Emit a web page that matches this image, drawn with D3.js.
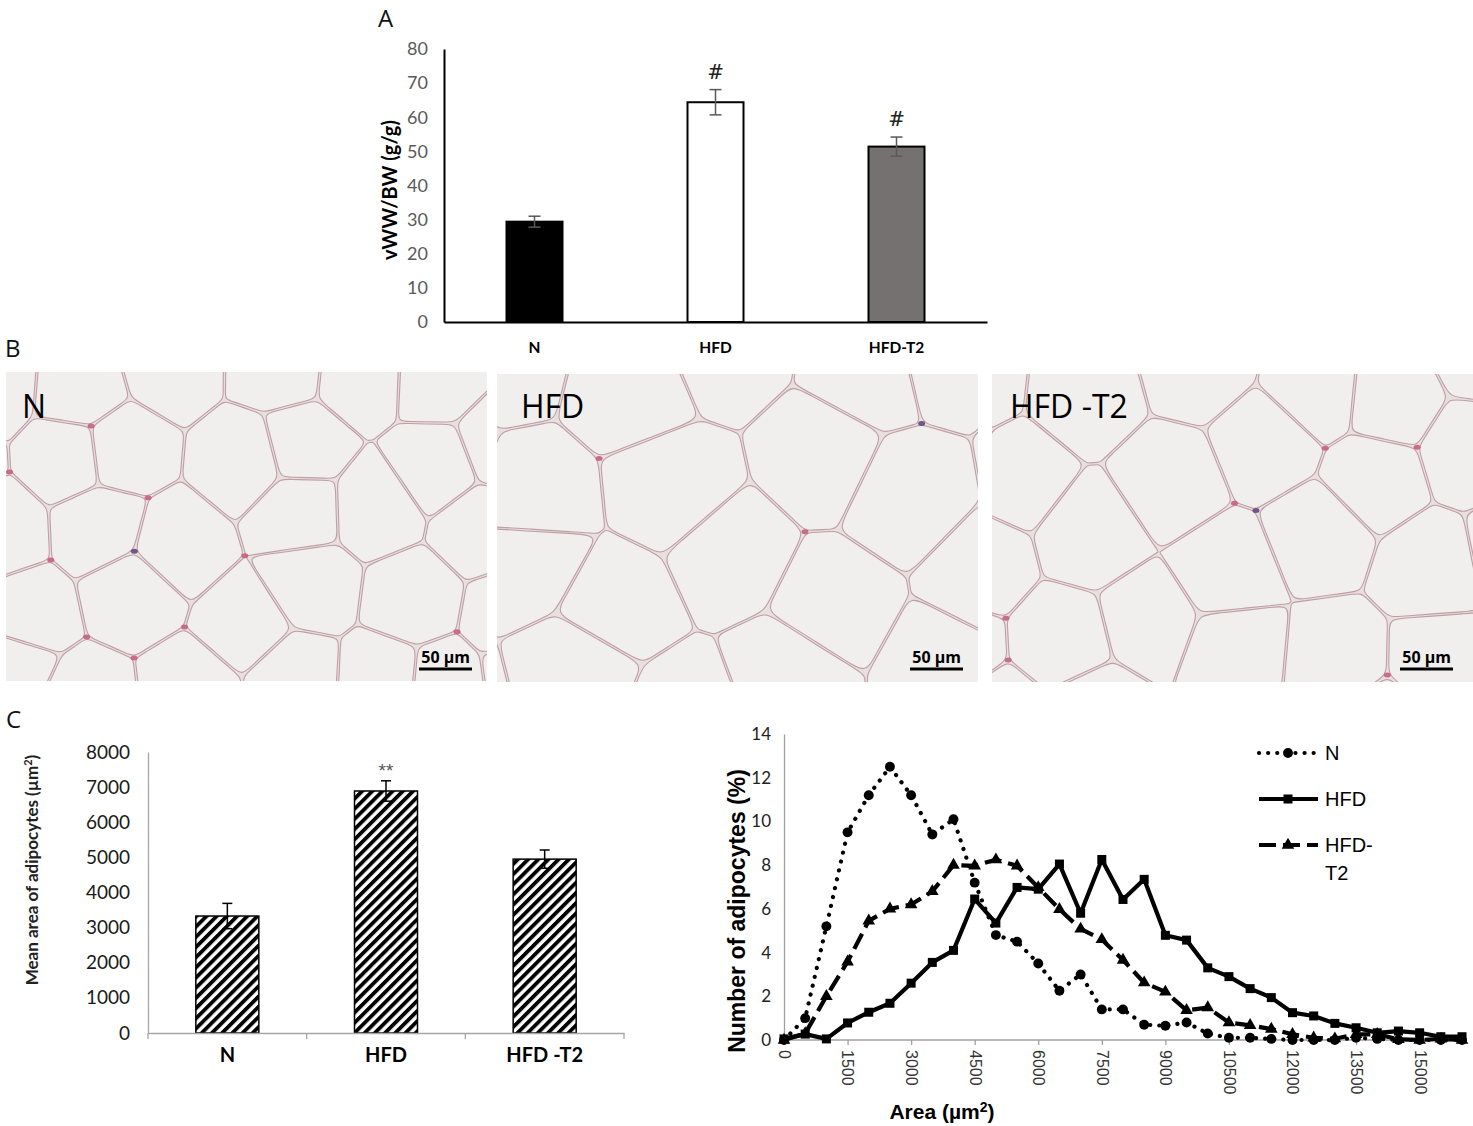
<!DOCTYPE html>
<html>
<head>
<meta charset="utf-8">
<script src="https://cdn.jsdelivr.net/npm/d3@7"></script>
<style>
  body { margin: 0; background: #fff; }
  svg { display: block; }
</style>
</head>
<body>
<svg id="fig" width="1473" height="1126"></svg>
<script>
"use strict";

/*
 * Panel A: vWW/BW ratio
 */
var groupsA = ["N", "HFD", "HFD-T2"];
var ratioA = [29.4, 64.4, 51.4];
var ratioErrA = [1.6, 3.7, 2.8];
var ratioMarkA = ["", "#", "#"];
var ticksA = [0, 10, 20, 30, 40, 50, 60, 70, 80];

/*
 * Panel B: histology photos (drawn as a cell texture)
 */
var photoLabels = ["N", "HFD", "HFD -T2"];
var cellSize = [90, 120, 104];

/*
 * Panel C: mean adipocyte area
 */
var groupsC = ["N", "HFD", "HFD -T2"];
var areaC = [3330, 6890, 4950];
var areaErrC = [360, 290, 260];
var areaMarkC = ["", "**", ""];
var ticksC = [0, 1000, 2000, 3000, 4000, 5000, 6000, 7000, 8000];

/*
 * Panel C: size distribution
 */
var areaBins = [0, 500, 1000, 1500, 2000, 2500, 3000, 3500, 4000, 4500, 5000, 5500,
  6000, 6500, 7000, 7500, 8000, 8500, 9000, 9500, 10000, 10500, 11000, 11500,
  12000, 12500, 13000, 13500, 14000, 14500, 15000, 15500, 16000];
var distN = [0, 1.0, 5.2, 9.5, 11.2, 12.5, 11.2, 9.4, 10.1, 7.2, 4.8, 4.5,
  3.5, 2.25, 3.0, 1.4, 1.4, 0.7, 0.65, 0.8, 0.3, 0.1, 0.1, 0.05,
  0, 0, 0, 0.1, 0.05, 0, 0, 0, 0];
var distHFD = [0.05, 0.27, 0.05, 0.78, 1.27, 1.68, 2.6, 3.55, 4.1, 6.45, 5.35, 6.98,
  6.9, 8.05, 5.8, 8.26, 6.43, 7.35, 4.79, 4.57, 3.3, 2.9, 2.35, 1.94,
  1.25, 1.1, 0.76, 0.56, 0.33, 0.41, 0.33, 0.15, 0.15];
var distT2 = [0, 0.3, 2.0, 3.58, 5.45, 6.0, 6.2, 6.8, 8.0, 7.97, 8.25, 7.97,
  6.98, 5.98, 5.08, 4.6, 3.66, 2.62, 2.2, 1.36, 1.48, 0.8, 0.67, 0.5,
  0.26, 0.1, 0.06, 0.26, 0.26, 0.03, 0, 0.05, 0];
var distNames = ["N", "HFD", "HFD-"];
var areaTicks = [0, 1500, 3000, 4500, 6000, 7500, 9000, 10500, 12000, 13500, 15000];
var pctTicks = [0, 2, 4, 6, 8, 10, 12, 14];

var svg = d3.select("#fig");
var serif = "'Open Sans', sans-serif";
var calib = "Lato, 'Open Sans', sans-serif";
var arial = "'Liberation Sans', Arial, sans-serif";
var fmt = d3.format("d");

svg.append("rect").attr("width", 1473).attr("height", 1126).attr("fill", "#fff");

// panel letters
[["A", 378, 27], ["B", 5, 357], ["C", 6, 728]].forEach(function(d) {
	svg.append("text").attr("x", d[1]).attr("y", d[2])
		.attr("font-family", serif).attr("font-size", 24).attr("fill", "#111")
		.text(d[0]);
});

/*
 * Panel A
 */
function drawA() {
	var x = d3.scaleBand().domain(groupsA).range([444, 987]);
	var y = d3.scaleLinear().domain([0, 80]).range([322, 49]);
	var bw = 56;
	var fills = ["#000", "#fff", "#767171"];

	var g = svg.append("g");

	g.selectAll(".barA")
		.data(groupsA)
		.enter().append("rect")
		.attr("x", function(d) { return x(d) + x.bandwidth() / 2 - bw / 2; })
		.attr("y", function(d, i) { return y(ratioA[i]); })
		.attr("width", bw)
		.attr("height", function(d, i) { return y(0) - y(ratioA[i]); })
		.attr("fill", function(d, i) { return fills[i]; })
		.attr("stroke", "#000").attr("stroke-width", 2);

	var err = g.selectAll(".errA").data(groupsA).enter().append("g")
		.attr("transform", function(d) { return "translate(" + (x(d) + x.bandwidth() / 2) + ",0)"; });
	err.append("line")
		.attr("y1", function(d, i) { return y(ratioA[i] - ratioErrA[i]); })
		.attr("y2", function(d, i) { return y(ratioA[i] + ratioErrA[i]); })
		.attr("stroke", "#595959").attr("stroke-width", 1.5);
	[-1, 1].forEach(function(s) {
		err.append("line").attr("x1", -6).attr("x2", 6)
			.attr("y1", function(d, i) { return y(ratioA[i] + s * ratioErrA[i]); })
			.attr("y2", function(d, i) { return y(ratioA[i] + s * ratioErrA[i]); })
			.attr("stroke", "#595959").attr("stroke-width", 1.5);
	});
	err.append("text")
		.attr("y", function(d, i) { return y(ratioA[i] + ratioErrA[i]) - 11; })
		.attr("text-anchor", "middle")
		.attr("font-family", "'DejaVu Serif', serif").attr("font-size", 20).attr("fill", "#222")
		.text(function(d, i) { return ratioMarkA[i]; });

	var ya = g.append("g").attr("transform", "translate(444,0)")
		.call(d3.axisLeft(y).tickValues(ticksA).tickSize(0).tickSizeOuter(0).tickPadding(16));
	ya.select(".domain").attr("stroke", "#000").attr("stroke-width", 2);
	ya.selectAll("text").attr("font-family", calib).attr("font-size", 18).attr("fill", "#595959");

	var xa = g.append("g").attr("transform", "translate(0,322)")
		.call(d3.axisBottom(x).tickSize(0).tickSizeOuter(0).tickPadding(20));
	xa.select(".domain").attr("stroke", "#000").attr("stroke-width", 2);
	xa.selectAll("text").attr("font-family", calib).attr("font-weight", "bold")
		.attr("font-size", 15.5).attr("fill", "#000");

	g.append("text")
		.attr("transform", "translate(397,190) rotate(-90)")
		.attr("text-anchor", "middle")
		.attr("font-family", calib).attr("font-weight", "bold").attr("font-size", 20)
		.text("vWW/BW (g/g)");
}

/*
 * Panel B: adipocyte sections as a Voronoi texture
 */
function hash(n) {
	var s = Math.sin(n * 12.9898 + 78.233) * 43758.5453;
	return s - Math.floor(s);
}

function drawB() {
	var boxes = [[6, 372, 481, 309], [497, 374, 481, 308], [992, 374, 481, 308]];
	var defs = svg.append("defs");
	var line = d3.line().curve(d3.curveBasisClosed);

	boxes.forEach(function(b, p) {
		var s = cellSize[p];
		var id = "clipB" + p;
		defs.append("clipPath").attr("id", id)
			.append("rect").attr("x", b[0]).attr("y", b[1]).attr("width", b[2]).attr("height", b[3]);
		var g = svg.append("g").attr("clip-path", "url(#" + id + ")");
		g.append("rect").attr("x", b[0]).attr("y", b[1]).attr("width", b[2]).attr("height", b[3])
			.attr("fill", "#e8dfdf");

		var seeds = [];
		var k = p * 1000 + 7;
		for (var r = -1; r * s * 0.86 < b[3] + s; r++) {
			for (var c = -1; c * s < b[2] + s; c++) {
				seeds.push([
					b[0] + c * s + (r % 2 ? s / 2 : 0) + (hash(k) - 0.5) * s * 0.55,
					b[1] + r * s * 0.86 + (hash(k + 1) - 0.5) * s * 0.5
				]);
				k += 2;
			}
		}
		var vor = d3.Delaunay.from(seeds)
			.voronoi([b[0] - s, b[1] - s, b[0] + b[2] + s, b[1] + b[3] + s]);

		var cells = [];
		for (var i = 0; i < seeds.length; i++) {
			var poly = vor.cellPolygon(i);
			if (!poly) continue;
			poly = poly.slice(0, -1);
			var ct = d3.polygonCentroid(poly);
			var pts = [];
			poly.forEach(function(q, j) {
				var n = poly[(j + 1) % poly.length];
				[0, 0.2, 0.5, 0.8].forEach(function(t) {
					var px = q[0] + (n[0] - q[0]) * t, py = q[1] + (n[1] - q[1]) * t;
					var dx = px - ct[0], dy = py - ct[1];
					var dd = Math.sqrt(dx * dx + dy * dy) || 1;
					var f = 1 - 1.2 / dd;
					pts.push([ct[0] + dx * f, ct[1] + dy * f]);
				});
			});
			cells.push(pts);
		}

		g.selectAll(".cell").data(cells).enter().append("path")
			.attr("d", line)
			.attr("fill", "#f0efed")
			.attr("stroke", "#bf9ea4")
			.attr("stroke-width", 1.1);

		// stained nuclei at a few junctions
		var cc = vor.circumcenters;
		for (var j = 0; j < cc.length / 2; j++) {
			if (hash(j * 3 + p * 97) < 0.16) {
				g.append("ellipse")
					.attr("cx", cc[2 * j]).attr("cy", cc[2 * j + 1])
					.attr("rx", 3.5).attr("ry", 2.5)
					.attr("fill", hash(j + 5) < 0.2 ? "#5a3f78" : "#c4587a")
					.attr("opacity", 0.85);
			}
		}

		svg.append("text").attr("x", b[0] + (p === 0 ? 16 : 24) - (p === 2 ? 6 : 0)).attr("y", 418)
			.attr("font-family", serif).attr("font-size", 32).attr("fill", "#000")
			.text(photoLabels[p]);

		var right = b[0] + b[2] - (p === 2 ? 20 : 15);
		svg.append("text").attr("x", right - 2).attr("y", 663)
			.attr("text-anchor", "end")
			.attr("font-family", serif).attr("font-weight", "bold").attr("font-size", 16)
			.text("50 µm");
		svg.append("line").attr("x1", right - 53).attr("x2", right)
			.attr("y1", 669).attr("y2", 669)
			.attr("stroke", "#000").attr("stroke-width", 3);
	});
}

/*
 * Panel C left: mean area, hatched bars
 */
function drawCBars() {
	var x = d3.scaleBand().domain(groupsC).range([148, 624]);
	var y = d3.scaleLinear().domain([0, 8000]).range([1033, 752]);
	var bw = 63;

	var pat = svg.append("defs").append("pattern")
		.attr("id", "hatch").attr("patternUnits", "userSpaceOnUse")
		.attr("width", 7.2).attr("height", 7.2)
		.attr("patternTransform", "rotate(45)");
	pat.append("rect").attr("width", 7.2).attr("height", 7.2).attr("fill", "#fff");
	pat.append("rect").attr("width", 3.8).attr("height", 7.2).attr("fill", "#000");

	var g = svg.append("g");

	g.selectAll(".barC").data(groupsC).enter().append("rect")
		.attr("x", function(d) { return x(d) + x.bandwidth() / 2 - bw / 2; })
		.attr("y", function(d, i) { return y(areaC[i]); })
		.attr("width", bw)
		.attr("height", function(d, i) { return y(0) - y(areaC[i]); })
		.attr("fill", "url(#hatch)")
		.attr("stroke", "#000").attr("stroke-width", 1.5);

	var err = g.selectAll(".errC").data(groupsC).enter().append("g")
		.attr("transform", function(d) { return "translate(" + (x(d) + x.bandwidth() / 2) + ",0)"; });
	err.append("line")
		.attr("y1", function(d, i) { return y(areaC[i] - areaErrC[i]); })
		.attr("y2", function(d, i) { return y(areaC[i] + areaErrC[i]); })
		.attr("stroke", "#000").attr("stroke-width", 1.5);
	[-1, 1].forEach(function(s) {
		err.append("line").attr("x1", -5).attr("x2", 5)
			.attr("y1", function(d, i) { return y(areaC[i] + s * areaErrC[i]); })
			.attr("y2", function(d, i) { return y(areaC[i] + s * areaErrC[i]); })
			.attr("stroke", "#000").attr("stroke-width", 1.5);
	});
	err.append("text")
		.attr("y", function(d, i) { return y(areaC[i] + areaErrC[i]) - 4; })
		.attr("text-anchor", "middle")
		.attr("font-family", arial).attr("font-size", 19).attr("fill", "#555")
		.text(function(d, i) { return areaMarkC[i]; });

	var ya = g.append("g").attr("transform", "translate(148,0)")
		.call(d3.axisLeft(y).tickValues(ticksC).tickFormat(fmt).tickSize(0).tickSizeOuter(0).tickPadding(18));
	ya.select(".domain").attr("stroke", "#a6a6a6").attr("stroke-width", 1.3);
	ya.selectAll("text").attr("font-family", calib).attr("font-size", 19).attr("fill", "#1a1a1a");

	var xa = g.append("g").attr("transform", "translate(0,1033)")
		.call(d3.axisBottom(x).tickSize(0).tickSizeOuter(0).tickPadding(15));
	xa.select(".domain").attr("stroke", "#a6a6a6").attr("stroke-width", 1.3);
	xa.selectAll("text").attr("font-family", calib).attr("font-weight", "bold")
		.attr("font-size", 20).attr("fill", "#000");
	// category boundary ticks
	xa.selectAll(".sep").data(groupsC).enter().append("line")
		.attr("x1", function(d) { return x(d) + x.bandwidth(); })
		.attr("x2", function(d) { return x(d) + x.bandwidth(); })
		.attr("y1", 0).attr("y2", 6)
		.attr("stroke", "#a6a6a6").attr("stroke-width", 1.3);
	xa.append("line").attr("x1", 148).attr("x2", 148).attr("y1", 0).attr("y2", 6)
		.attr("stroke", "#a6a6a6").attr("stroke-width", 1.3);

	var lab = g.append("text")
		.attr("transform", "translate(38,870) rotate(-90)")
		.attr("text-anchor", "middle")
		.attr("font-family", calib).attr("font-weight", "bold").attr("font-size", 17)
		.attr("fill", "#222");
	lab.append("tspan").text("Mean area of adipocytes (µm");
	lab.append("tspan").attr("dy", -6).attr("font-size", 11).text("2");
	lab.append("tspan").attr("dy", 6).text(")");
}

/*
 * Panel C right: size distribution lines
 */
function drawCLines() {
	var x = d3.scaleLinear().domain([0, 16000]).range([784, 1462]);
	var y = d3.scaleLinear().domain([0, 14]).range([1040, 734]);
	var series = [distN, distHFD, distT2];
	var dashes = ["0.1 9", null, "17 7"];
	var caps = ["round", "butt", "butt"];

	var g = svg.append("g");

	var ya = g.append("g").attr("transform", "translate(784,0)")
		.call(d3.axisLeft(y).tickValues(pctTicks).tickSize(0).tickSizeOuter(0).tickPadding(13));
	ya.select(".domain").attr("stroke", "#a0a0a0").attr("stroke-width", 1.3);
	ya.selectAll("text").attr("font-family", calib).attr("font-size", 17).attr("fill", "#222");

	var xa = g.append("g").attr("transform", "translate(0,1040)")
		.call(d3.axisBottom(x).tickValues(areaTicks).tickFormat(fmt).tickSize(5).tickSizeOuter(0));
	xa.select(".domain").attr("stroke", "#a0a0a0").attr("stroke-width", 1.3)
		.attr("d", "M784,0H1466");
	xa.selectAll(".tick line").attr("stroke", "#a0a0a0").attr("stroke-width", 1.3);
	xa.selectAll("text")
		.attr("transform", "rotate(90)")
		.attr("x", 10).attr("y", 0).attr("dy", "0.35em")
		.attr("text-anchor", "start")
		.attr("font-family", arial).attr("font-size", 16).attr("fill", "#333");

	var line = d3.line()
		.x(function(d, i) { return x(areaBins[i]); })
		.y(function(d) { return y(d); });

	series.forEach(function(vals, s) {
		g.append("path").datum(vals)
			.attr("d", line)
			.attr("fill", "none").attr("stroke", "#000").attr("stroke-width", 4.2)
			.attr("stroke-linecap", caps[s]).attr("stroke-linejoin", "round")
			.attr("stroke-dasharray", dashes[s]);
	});

	function marker(sel, s, size) {
		if (s === 0) {
			sel.append("circle").attr("r", size * 0.55).attr("fill", "#000");
		} else if (s === 1) {
			sel.append("rect").attr("x", -size / 2).attr("y", -size / 2)
				.attr("width", size).attr("height", size).attr("fill", "#000");
		} else {
			sel.append("path").attr("d", d3.symbol(d3.symbolTriangle, size * size * 0.85)).attr("fill", "#000");
		}
	}

	series.forEach(function(vals, s) {
		var m = g.selectAll(".m" + s).data(vals).enter().append("g")
			.attr("transform", function(d, i) { return "translate(" + x(areaBins[i]) + "," + y(d) + ")"; });
		marker(m, s, 9);
	});

	// legend
	var ly = [753, 799, 845];
	distNames.forEach(function(name, s) {
		var lg = g.append("g").attr("transform", "translate(0," + ly[s] + ")");
		lg.append("line").attr("x1", 1259).attr("x2", 1318)
			.attr("stroke", "#000").attr("stroke-width", 4.2)
			.attr("stroke-linecap", caps[s])
			.attr("stroke-dasharray", dashes[s]);
		marker(lg.append("g").attr("transform", "translate(1288,0)"), s, 9);
		lg.append("text").attr("x", 1325).attr("y", 7)
			.attr("font-family", arial).attr("font-size", 20).text(name);
	});
	g.append("text").attr("x", 1325).attr("y", 880)
		.attr("font-family", arial).attr("font-size", 20).text("T2");

	g.append("text")
		.attr("transform", "translate(745,911) rotate(-90)")
		.attr("text-anchor", "middle")
		.attr("font-family", arial).attr("font-weight", "bold").attr("font-size", 23)
		.text("Number of adipocytes (%)");

	var xl = g.append("text").attr("x", 942).attr("y", 1119)
		.attr("text-anchor", "middle")
		.attr("font-family", arial).attr("font-weight", "bold").attr("font-size", 21);
	xl.append("tspan").text("Area (µm");
	xl.append("tspan").attr("dy", -7).attr("font-size", 14).text("2");
	xl.append("tspan").attr("dy", 7).text(")");
}

drawA();
drawB();
drawCBars();
drawCLines();
</script>
</body>
</html>
